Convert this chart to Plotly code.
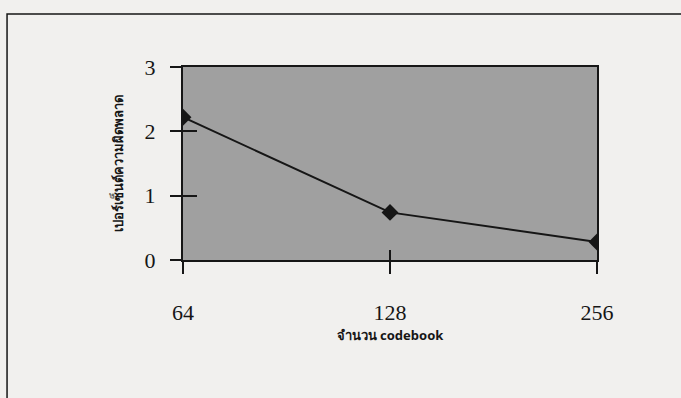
import plotly.graph_objects as go

# Codebook size vs. error percentage
codebook_sizes = ["64", "128", "256"]
error_percent = [2.22, 0.74, 0.28]
y_ticks = [0, 1, 2, 3]

x_title = "จำนวน codebook"
y_title = "เปอร์เซ็นต์ความผิดพลาด"

ink = "#161616"
serif = "Liberation Serif, Times New Roman, serif"
title_font = dict(size=13, family="Noto Sans, DejaVu Sans, sans-serif", weight="bold")

fig = go.Figure()
fig.add_trace(go.Scatter(
    x=codebook_sizes, y=error_percent,
    mode="lines+markers",
    line=dict(color=ink, width=2),
    marker=dict(symbol="diamond", size=13, color=ink),
    showlegend=False,
))
# transparent copy bound to the companion axes so their inner ticks get drawn
fig.add_trace(go.Scatter(
    x=codebook_sizes, y=error_percent,
    xaxis="x2", yaxis="y2",
    mode="markers", marker=dict(opacity=0),
    hoverinfo="skip", showlegend=False,
))

fig.update_layout(
    width=681, height=398,
    margin=dict(l=183, r=84, t=67, b=138),
    paper_bgcolor="#f1f0ee",
    plot_bgcolor="#a0a0a0",
    font=dict(family=serif, color=ink),
    xaxis=dict(
        type="category", range=[0, 2],
        showline=True, linecolor=ink, linewidth=2, mirror=True,
        ticks="outside", ticklen=12, tickwidth=1.5, tickcolor=ink,
        tickfont=dict(size=22), ticklabelstandoff=20,
        showgrid=False, zeroline=False,
        title=dict(text=x_title, font=title_font, standoff=6),
    ),
    yaxis=dict(
        range=[0, 3], tickvals=y_ticks,
        showline=True, linecolor=ink, linewidth=2, mirror=True,
        ticks="outside", ticklen=11, tickwidth=1.5, tickcolor=ink,
        tickfont=dict(size=22), ticklabelstandoff=10,
        showgrid=False, zeroline=False,
        title=dict(text=y_title, font=title_font, standoff=18),
    ),
    # companion axes supplying the inner half of each crossing tick
    xaxis2=dict(
        type="category", overlaying="x", range=[0, 2],
        ticks="inside", ticklen=10, tickwidth=1.5, tickcolor=ink,
        showticklabels=False, showgrid=False, zeroline=False, showline=False,
    ),
    yaxis2=dict(
        overlaying="y", range=[0, 3], tickvals=y_ticks,
        ticks="inside", ticklen=14, tickwidth=1.5, tickcolor=ink,
        showticklabels=False, showgrid=False, zeroline=False, showline=False,
    ),
    shapes=[dict(
        type="rect", xref="paper", yref="paper",
        x0=-0.425, x1=1.23, y0=-0.78, y1=1.275,
        line=dict(color=ink, width=1.5), fillcolor="rgba(0,0,0,0)", layer="below",
    )],
)

fig.write_html("out.html")
